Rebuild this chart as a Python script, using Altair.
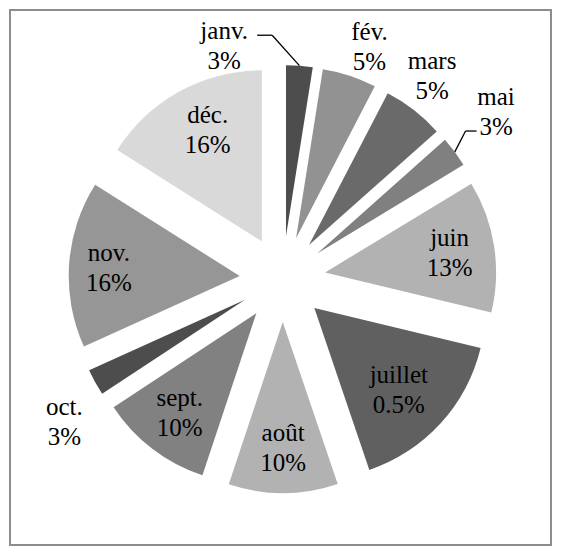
import altair as alt
import pandas as pd

# ---- data ----
months = ["janv.", "fév.", "mars", "mai", "juin", "juillet", "août", "sept.", "oct.", "nov.", "déc."]
shares = [2.5, 5.1, 5.8, 2.9, 12.4, 16.0, 10.3, 10.6, 2.5, 15.7, 16.0]   # slice sizes
pct_labels = ["3%", "5%", "5%", "3%", "13%", "0.5%", "10%", "10%", "3%", "16%", "16%"]
grays = ["#4d4d4d", "#929292", "#6a6a6a", "#808080", "#b2b2b2", "#606060",
         "#b2b2b2", "#818181", "#4d4d4d", "#969696", "#d9d9d9"]

# ---- layout ----
CX, CY = 272.6, 269.0      # pie centre (px inside the chart)
EXPLODE = 43               # distance each slice is pulled out
R = 171                    # slice radius
INSIDE_R = 169             # distance of inside labels from centre
LINE_GAP = 15              # half the distance between the two label lines
# label placement tweaks: (angle nudge in degrees, distance from centre)
label_place = {"janv.": (-18.6, 240), "fév.": (2.3, 248), "mars": (-1.5, 252),
               "mai": (-1.6, 271), "oct.": (-4.4, 261),
               "juillet": (1.4, 161), "nov.": (-0.5, 174), "déc.": (2.2, 167)}
# leader lines: (end dx from label, end dy from label, horizontal run)
leaders = {"janv.": (33, -11, 15), "mai": (-19.5, 19, -11)}

FONT = "Liberation Serif"

df = pd.DataFrame({
    "idx": list(range(len(months))),
    "month": months,
    "share": shares,
    "pct": pct_labels,
    "shift": [label_place.get(m, (0, INSIDE_R))[0] for m in months],
    "lr": [label_place.get(m, (0, INSIDE_R))[1] for m in months],
    "lead": [1 if m in leaders else 0 for m in months],
    "lex": [leaders.get(m, (0, 0, 0))[0] for m in months],
    "ley": [leaders.get(m, (0, 0, 0))[1] for m in months],
    "elb": [leaders.get(m, (0, 0, 0))[2] for m in months],
})

base = (
    alt.Chart(df)
    .transform_joinaggregate(total="sum(share)")
    .transform_window(cum="sum(share)", sort=[alt.SortField("idx")], frame=[None, 0])
    .transform_calculate(mid="2*PI*(datum.cum - datum.share/2)/datum.total")
    .transform_calculate(ax=f"{CX}+{EXPLODE}*sin(datum.mid)")
    .transform_calculate(ay=f"{CY}-{EXPLODE}*cos(datum.mid)")
    .transform_calculate(la="datum.mid + datum.shift*PI/180")
    .transform_calculate(lx=f"{CX}+datum.lr*sin(datum.la)")
    .transform_calculate(ly=f"{CY}-datum.lr*cos(datum.la)")
)

arcs = base.mark_arc(radius=R, stroke=None).encode(
    theta=alt.Theta("share:Q", stack=True),
    order=alt.Order("idx:Q"),
    color=alt.Color("month:N", scale=alt.Scale(domain=months, range=grays), legend=None),
    x=alt.X("ax:Q", scale=None, axis=None),
    y=alt.Y("ay:Q", scale=None, axis=None),
)

month_text = base.mark_text(font=FONT, fontSize=25, align="center", baseline="middle",
                            dy=-LINE_GAP, color="black").encode(
    x=alt.X("lx:Q", scale=None, axis=None),
    y=alt.Y("ly:Q", scale=None, axis=None),
    text="month:N",
)
pct_text = base.mark_text(font=FONT, fontSize=25, align="center", baseline="middle",
                          dy=LINE_GAP, color="black").encode(
    x=alt.X("lx:Q", scale=None, axis=None),
    y=alt.Y("ly:Q", scale=None, axis=None),
    text="pct:N",
)

lead_base = (
    base.transform_filter("datum.lead == 1")
    .transform_calculate(px=f"{CX}+{EXPLODE + R}*sin(datum.mid)")
    .transform_calculate(py=f"{CY}-{EXPLODE + R}*cos(datum.mid)")
    .transform_calculate(ex="datum.lx + datum.lex")
    .transform_calculate(ey="datum.ly + datum.ley")
    .transform_calculate(bx="datum.ex + datum.elb")
)

lead1 = lead_base.mark_rule(color="black", strokeWidth=1.3).encode(
    x=alt.X("px:Q", scale=None, axis=None),
    y=alt.Y("py:Q", scale=None, axis=None),
    x2="bx:Q",
    y2="ey:Q",
)
lead2 = lead_base.mark_rule(color="black", strokeWidth=1.3).encode(
    x=alt.X("bx:Q", scale=None, axis=None),
    y=alt.Y("ey:Q", scale=None, axis=None),
    x2="ex:Q",
    y2="ey:Q",
)

chart = (
    alt.layer(arcs, lead1, lead2, month_text, pct_text)
    .properties(width=541, height=535, padding=2, autosize="none", background="white")
    .configure(font=FONT)
    .configure_text(font=FONT)
    .configure_view(stroke="#8c8c8c", strokeWidth=2)
)

chart.save("out.html", embed_options={"renderer": "svg", "actions": False})
